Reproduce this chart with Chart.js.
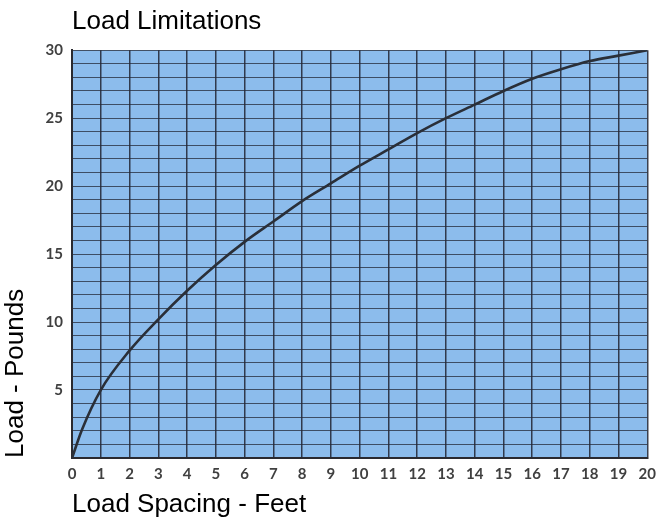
<!DOCTYPE html>
<html>
<head>
<meta charset="utf-8">
<script src="https://cdn.jsdelivr.net/npm/chart.js@4"></script>
<style>
  html, body { margin: 0; padding: 0; background: #ffffff; }
  #wrap { width: 663px; height: 521px; }
</style>
</head>
<body>
<div id="wrap"><canvas id="c" width="663" height="521"></canvas></div>
<script>
// ---- data ----
const loadSpacingFeet = [0, 0.35, 1, 2, 3, 4, 5, 6, 7, 8, 9, 10, 11, 12, 13, 14, 15, 16, 17, 18, 19, 20];
const loadPounds      = [0, 2.1, 5.0, 7.9, 10.2, 12.3, 14.2, 15.9, 17.4, 18.9, 20.2, 21.5, 22.7, 23.9, 25.0, 26.0, 27.0, 27.9, 28.6, 29.2, 29.6, 30.0];
const yLabelValues    = [5, 10, 15, 20, 25, 30];
const chartTitle  = 'Load Limitations';
const xAxisTitle  = 'Load Spacing - Feet';
const yAxisTitle  = 'Load - Pounds';

const points = loadSpacingFeet.map((x, i) => ({ x: x, y: loadPounds[i] }));

const plotBackground = {
  id: 'plotBackground',
  beforeDraw(chart) {
    const a = chart.chartArea;
    const ctx = chart.ctx;
    ctx.save();
    ctx.fillStyle = 'rgb(140,188,236)';
    ctx.fillRect(a.left, a.top, a.right - a.left, a.bottom - a.top);
    ctx.restore();
  }
};

const tickFont = { family: 'Lato, "Liberation Sans", sans-serif', size: 15, weight: 'bold' };
const titleFont = { family: '"Liberation Sans", Arial, sans-serif', size: 26, weight: 'normal' };

new Chart(document.getElementById('c'), {
  type: 'line',
  data: {
    datasets: [{
      data: points,
      borderColor: '#2a2f38',
      borderWidth: 2.6,
      pointRadius: 0,
      fill: false,
      cubicInterpolationMode: 'monotone'
    }]
  },
  plugins: [plotBackground],
  options: {
    responsive: false,
    animation: false,
    layout: { padding: { left: 0, right: 11, top: 0, bottom: 0 } },
    plugins: {
      legend: { display: false },
      tooltip: { enabled: false },
      title: {
        display: true,
        text: chartTitle,
        align: 'start',
        fullSize: false,
        color: '#000000',
        font: titleFont,
        padding: { top: 6, bottom: 13 }
      }
    },
    scales: {
      x: {
        type: 'linear',
        min: 0,
        max: 20,
        afterFit(scale) { scale.height = 63; },
        ticks: {
          stepSize: 1,
          autoSkip: false,
          maxRotation: 0,
          padding: 7,
          color: '#404040',
          font: tickFont
        },
        grid: { color: 'rgba(35,40,55,0.88)', lineWidth: 1.5, drawTicks: false },
        border: { color: '#2a2a30', width: 2 },
        title: {
          display: true,
          text: xAxisTitle,
          align: 'start',
          color: '#000000',
          font: titleFont,
          padding: { top: 0, bottom: 1 }
        }
      },
      y: {
        type: 'linear',
        min: 0,
        max: 30,
        afterFit(scale) { scale.width = 72; },
        ticks: {
          stepSize: 1,
          autoSkip: false,
          padding: 9,
          color: '#404040',
          font: tickFont,
          callback: (v) => (yLabelValues.includes(v) ? String(v) : '')
        },
        grid: { color: 'rgba(35,40,55,0.75)', lineWidth: 1.1, drawTicks: false },
        border: { color: '#2a2a30', width: 2 },
        title: {
          display: true,
          text: yAxisTitle,
          align: 'start',
          color: '#000000',
          font: titleFont,
          padding: { top: 0, bottom: 0 }
        }
      }
    }
  }
});
</script>
</body>
</html>
